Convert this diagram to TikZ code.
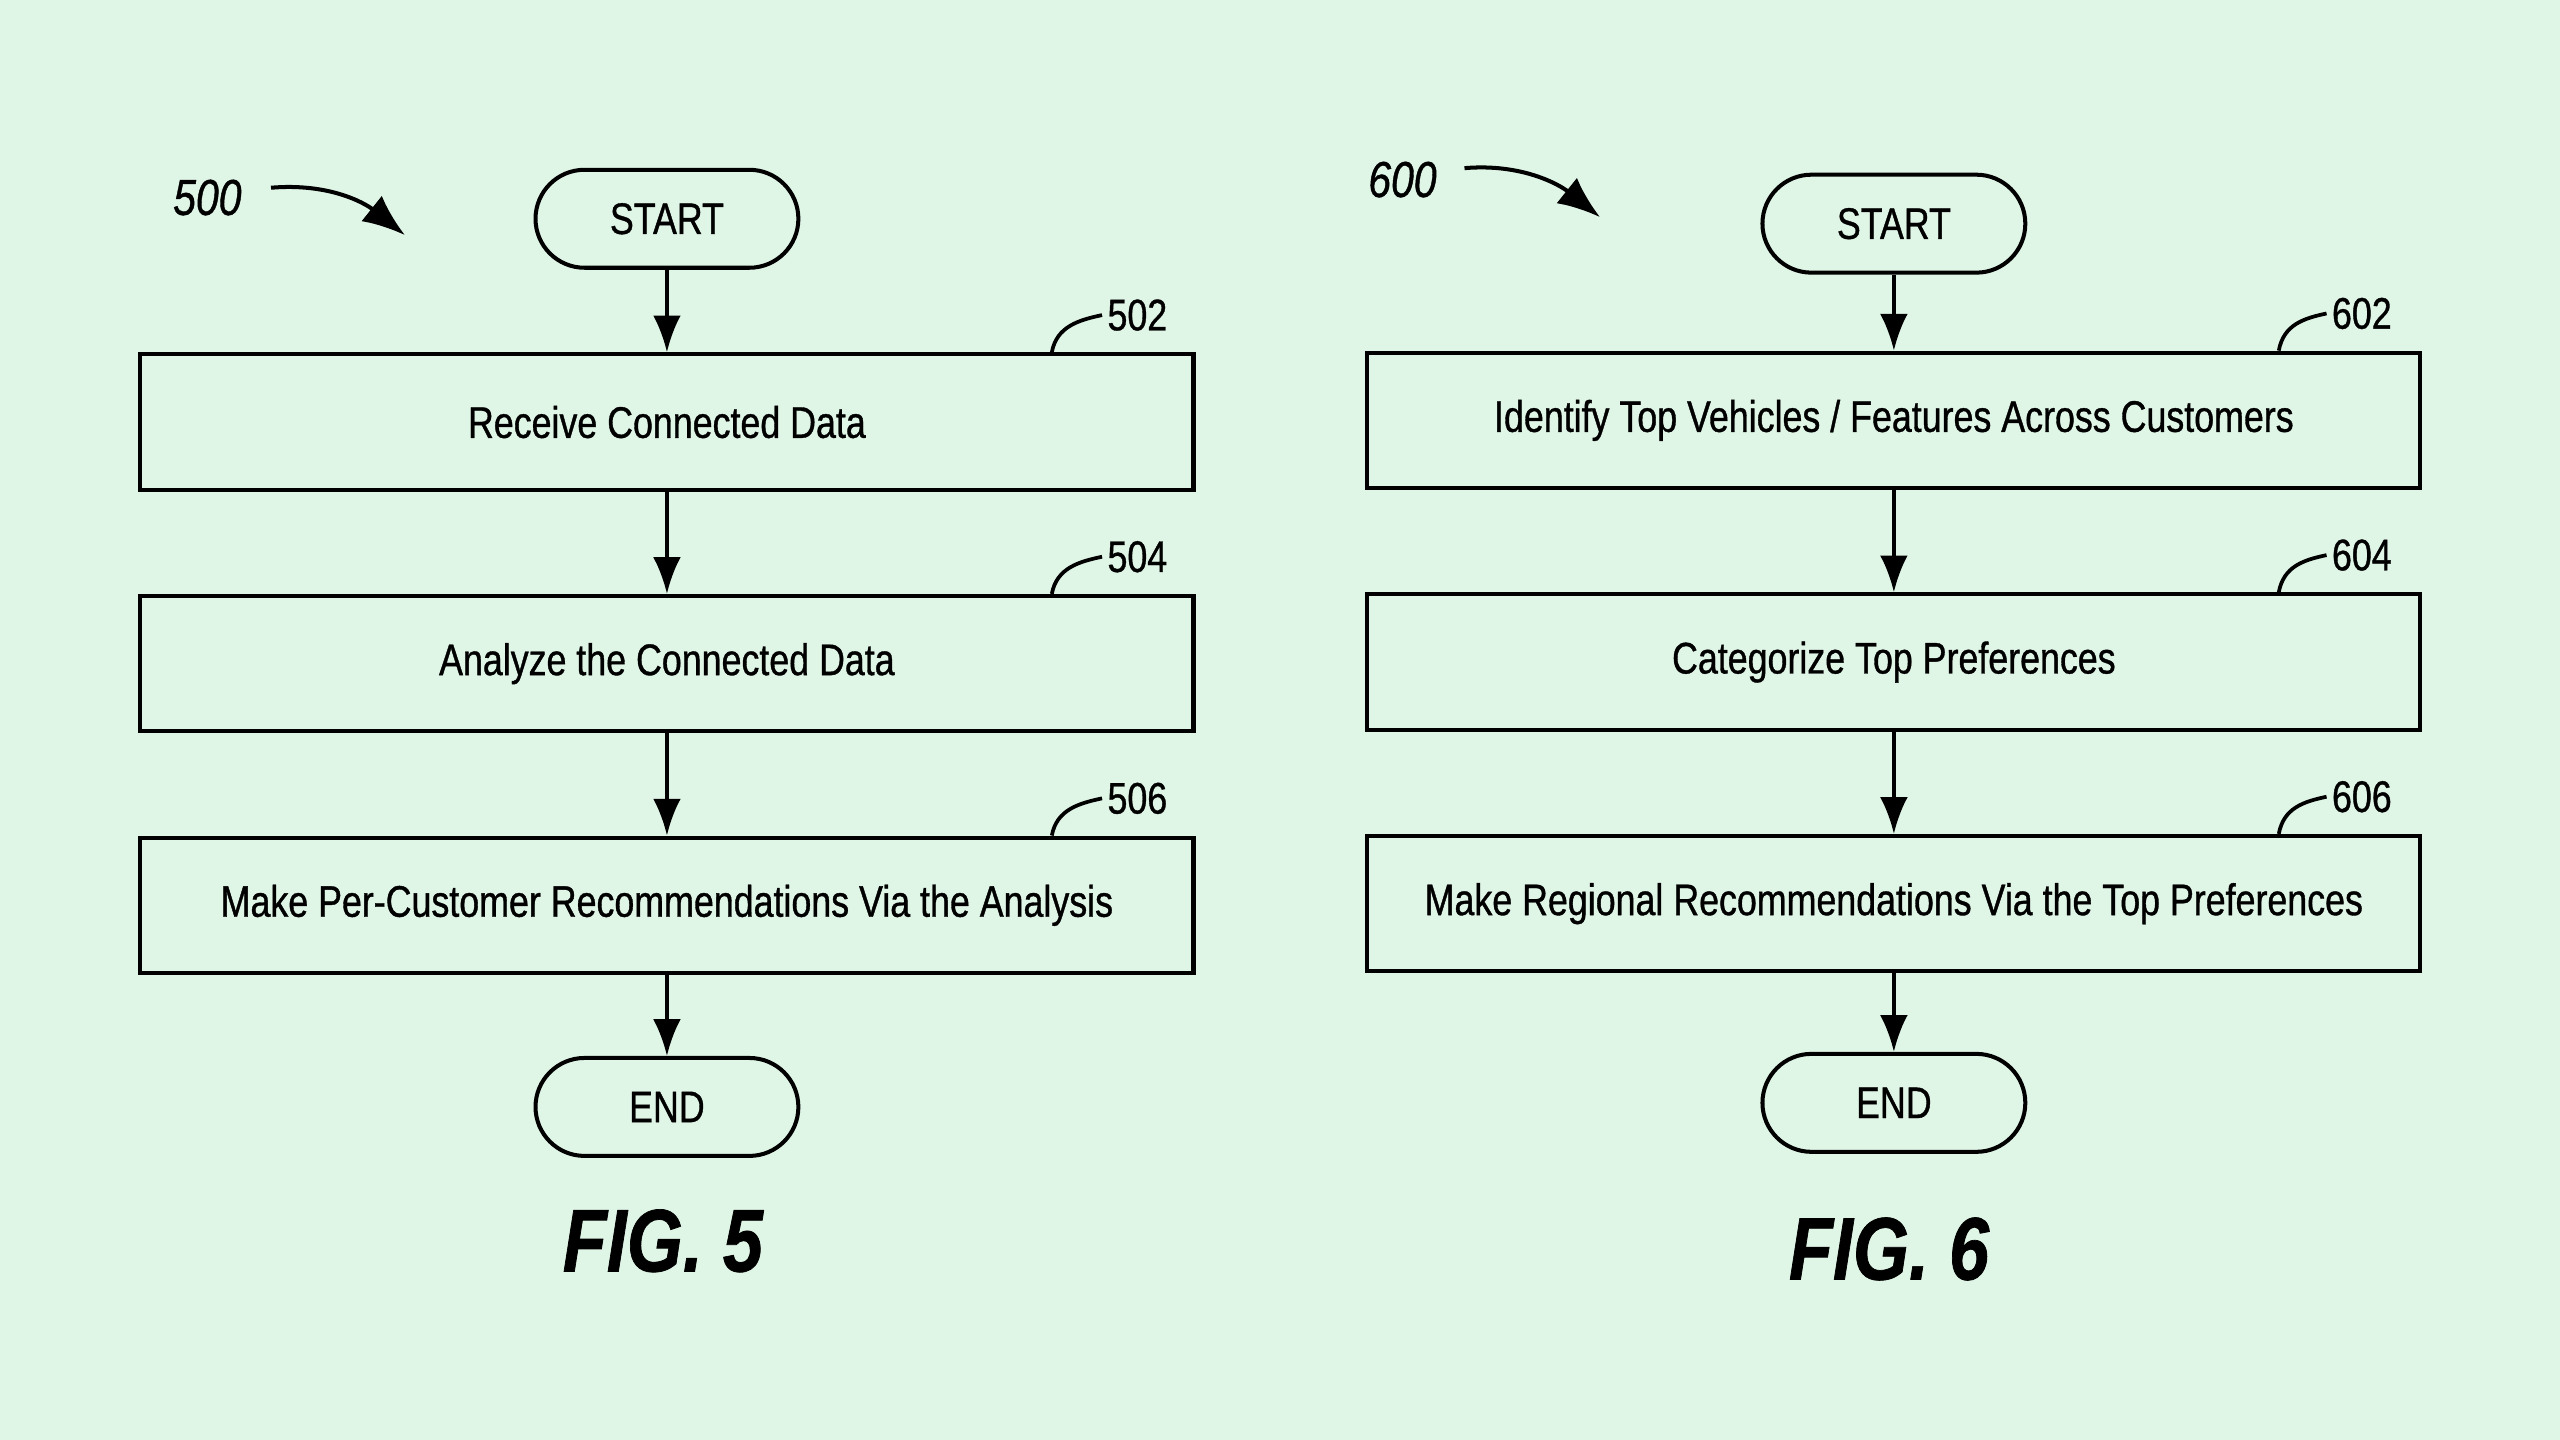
\documentclass[tikz,border=0pt]{standalone}
\usepackage{fontspec}
\setmainfont{Liberation Sans}[FakeStretch=0.81, FakeBold=0.8]
\usetikzlibrary{arrows.meta}

\definecolor{bgmint}{RGB}{223,245,230}

\tikzset{
    procbox/.style={draw, line width=1.4pt, minimum width=129mm, minimum height=16.6mm,
        inner sep=0pt, font=\fontsize{15.4}{18}\selectfont},
    termbox/.style={draw, line width=1.4pt, rounded corners=6mm, minimum width=32.2mm,
        minimum height=12mm, inner sep=0pt, font=\fontsize{15.4}{18}\selectfont},
    flow/.style={line width=1.3pt, -{Latex[length=4.5mm,width=3.4mm]}},
    leadarrow/.style={line width=1.4pt, -{Latex[length=5.2mm,width=4mm]}},
    leader/.style={line width=1.3pt},
    refnum/.style={inner sep=0.6mm, anchor=west, font=\fontsize{15.4}{18}\selectfont},
    chartnum/.style={inner sep=0.6mm, font=\fontsize{17.6}{20}\selectfont\itshape},
    fignum/.style={font=\fontsize{31}{36}\selectfont\bfseries\itshape},
}

\begin{document}
\begin{tikzpicture}[x=0.2mm, y=-0.2mm]
    \fill [bgmint] (0,0) rectangle (1568,882);
    \useasboundingbox (0,0) rectangle (1568,882);

    % Left: FIG. 5, per-customer recommendations
    \node [chartnum] (l500) at (127,121) {500};
    \coordinate (tail500) at (166,115);
    \coordinate (tip500) at (248,144);
    \draw [leadarrow] (tail500) .. controls +(35,-3) and +(-25,-20) .. (tip500);

    \node [termbox] (start5) at (408.5,134) {START};
    \node [procbox] (b502) at (408.5,258.5) {Receive Connected Data};
    \node [procbox] (b504) at (408.5,406.5) {Analyze the Connected Data};
    \node [procbox] (b506) at (408.5,554.5) {Make Per-Customer Recommendations Via the Analysis};
    \node [termbox] (end5) at (408.5,678) {END};

    \draw [flow] (start5) -- (b502);
    \draw [flow] (b502) -- (b504);
    \draw [flow] (b504) -- (b506);
    \draw [flow] (b506) -- (end5);

    % Reference numerals with leaders
    \node [refnum] (l502) at (675,193) {502};
    \node [refnum] (l504) at (675,341) {504};
    \node [refnum] (l506) at (675,489) {506};
    \draw [leader] (b502.north east) ++(-88,0) .. controls +(3,-16) and +(-14,3) .. (l502.west);
    \draw [leader] (b504.north east) ++(-88,0) .. controls +(3,-16) and +(-14,3) .. (l504.west);
    \draw [leader] (b506.north east) ++(-88,0) .. controls +(3,-16) and +(-14,3) .. (l506.west);

    \node [fignum] (fig5) at (406,760) {FIG. 5};

    % Right: FIG. 6, regional recommendations
    \node [chartnum] (l600) at (859,110) {600};
    \coordinate (tail600) at (897,103);
    \coordinate (tip600) at (980,133);
    \draw [leadarrow] (tail600) .. controls +(35,-3) and +(-25,-20) .. (tip600);

    \node [termbox] (start6) at (1160,137) {START};
    \node [procbox] (b602) at (1160,257.5) {Identify Top Vehicles / Features Across Customers};
    \node [procbox] (b604) at (1160,405.5) {Categorize Top Preferences};
    \node [procbox] (b606) at (1160,553.5) {Make Regional Recommendations Via the Top Preferences};
    \node [termbox] (end6) at (1160,675.5) {END};

    \draw [flow] (start6) -- (b602);
    \draw [flow] (b602) -- (b604);
    \draw [flow] (b604) -- (b606);
    \draw [flow] (b606) -- (end6);

    \node [refnum] (l602) at (1425,192) {602};
    \node [refnum] (l604) at (1425,340) {604};
    \node [refnum] (l606) at (1425,488) {606};
    \draw [leader] (b602.north east) ++(-88,0) .. controls +(3,-16) and +(-14,3) .. (l602.west);
    \draw [leader] (b604.north east) ++(-88,0) .. controls +(3,-16) and +(-14,3) .. (l604.west);
    \draw [leader] (b606.north east) ++(-88,0) .. controls +(3,-16) and +(-14,3) .. (l606.west);

    \node [fignum] (fig6) at (1157,765) {FIG. 6};
\end{tikzpicture}
\end{document}
